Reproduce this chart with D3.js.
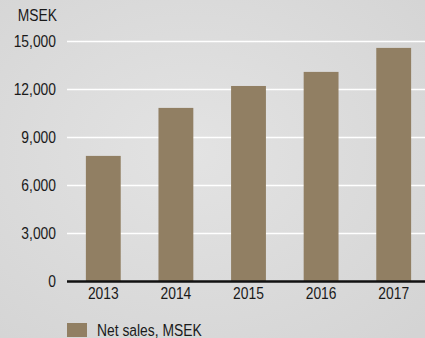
<!DOCTYPE html>
<html>
<head>
<meta charset="utf-8">
<script src="https://cdn.jsdelivr.net/npm/d3@7"></script>
<style>
	body { margin: 0; background: #dcdcdc; }
	svg { display: block; }
	.tick text, .label { font-family: "Liberation Sans", Arial, sans-serif; font-size: 16.5px; fill: #1a1a1a; }
</style>
</head>
<body>
<script>
// data
var years = ["2013", "2014", "2015", "2016", "2017"];
var netSales = [7850, 10850, 12220, 13100, 14600];
var yTicks = [0, 3000, 6000, 9000, 12000, 15000];

var w = 425;
var h = 338;
var narrow = "scale(0.84,1)"; // condensed look

var svg = d3.select("body")
	.append("svg")
	.attr("width", w)
	.attr("height", h);

// background gradient
var defs = svg.append("defs");
var grad = defs.append("radialGradient")
	.attr("id", "bg")
	.attr("cx", "45%").attr("cy", "45%").attr("r", "75%");
grad.append("stop").attr("offset", "0%").attr("stop-color", "#e3e3e3");
grad.append("stop").attr("offset", "100%").attr("stop-color", "#d4d4d4");

svg.append("rect")
	.attr("width", w)
	.attr("height", h)
	.attr("fill", "url(#bg)");

var xScale = d3.scaleBand()
	.domain(years)
	.range([67, 430])
	.paddingInner(0.52)
	.paddingOuter(0.26);

var yScale = d3.scaleLinear()
	.domain([0, 15000])
	.range([281.5, 41.5]);

//gridlines
svg.selectAll("line.grid")
	.data(yTicks.filter(d => d > 0))
	.enter()
	.append("line")
	.attr("class", "grid")
	.attr("x1", 67)
	.attr("x2", w)
	.attr("y1", d => yScale(d))
	.attr("y2", d => yScale(d))
	.attr("stroke", "#ffffff")
	.attr("stroke-width", 1.5);

//bars
svg.selectAll("rect.bar")
	.data(netSales)
	.enter()
	.append("rect")
	.attr("class", "bar")
	.attr("x", (d, i) => xScale(years[i]))
	.attr("y", d => yScale(d))
	.attr("width", xScale.bandwidth())
	.attr("height", d => yScale(0) - yScale(d))
	.attr("fill", "#917f63");

//Y axis
var yAxis = d3.axisLeft(yScale)
	.tickValues(yTicks)
	.tickSize(0)
	.tickPadding(0)
	.tickFormat(d3.format(","));

svg.append("g")
	.attr("transform", "translate(56,0)")
	.call(yAxis)
	.call(g => g.select(".domain").remove())
	.call(g => g.selectAll("text").attr("transform", narrow));

//X axis
var xAxis = d3.axisBottom(xScale)
	.tickSize(0)
	.tickPadding(6);

svg.append("g")
	.attr("transform", "translate(0," + yScale(0) + ")")
	.call(xAxis)
	.call(g => g.select(".domain").remove())
	.call(g => g.selectAll("text").attr("transform", narrow));

// zero line
svg.append("line")
	.attr("x1", 67)
	.attr("x2", w)
	.attr("y1", yScale(0))
	.attr("y2", yScale(0))
	.attr("stroke", "#111")
	.attr("stroke-width", 2.5);

// unit label
svg.append("text")
	.attr("class", "label")
	.text("MSEK")
	.attr("text-anchor", "end")
	.attr("transform", "translate(57,21) " + narrow);

// legend
svg.append("rect")
	.attr("x", 67)
	.attr("y", 323)
	.attr("width", 20)
	.attr("height", 14)
	.attr("fill", "#917f63");

svg.append("text")
	.attr("class", "label")
	.text("Net sales, MSEK")
	.attr("transform", "translate(97,336) " + narrow);
</script>
</body>
</html>
